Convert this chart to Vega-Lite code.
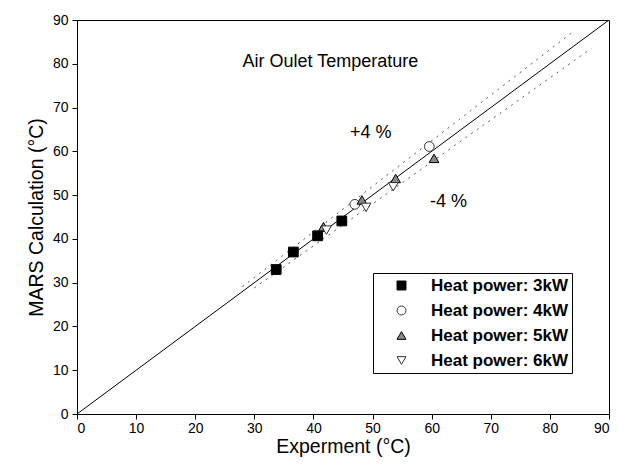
{
  "$schema": "https://vega.github.io/schema/vega-lite/v6.json",
  "width": 532,
  "height": 394,
  "autosize": {"type": "none"},
  "padding": {"left": 77, "top": 20, "right": 10, "bottom": 56},
  "background": "white",
  "config": {
    "view": {"stroke": "black", "strokeWidth": 1},
    "font": "Liberation Sans",
    "axis": {"domainColor": "black", "tickColor": "black", "labelColor": "black", "titleColor": "black", "grid": false, "labelFontSize": 14, "titleFontSize": 19.5, "titleFontWeight": "normal", "tickSize": 5, "labelFont": "Liberation Sans", "titleFont": "Liberation Sans"},
    "legend": {"orient": "none", "legendX": 296, "legendY": 253, "strokeColor": "black", "fillColor": "white", "padding": 4, "symbolOffset": 16, "labelFontSize": 17, "labelFontWeight": "bold", "labelColor": "black", "labelFont": "Liberation Sans", "labelOffset": 21, "rowPadding": 7, "symbolSize": 80, "symbolStrokeWidth": 1, "labelLimit": 300}
  },
  "datasets": {
    "points": [
      {"exp": 33.7, "calc": 33.0, "series": "Heat power: 3kW"},
      {"exp": 36.6, "calc": 37.0, "series": "Heat power: 3kW"},
      {"exp": 40.7, "calc": 40.7, "series": "Heat power: 3kW"},
      {"exp": 44.8, "calc": 44.1, "series": "Heat power: 3kW"},
      {"exp": 47.0, "calc": 47.9, "series": "Heat power: 4kW"},
      {"exp": 59.6, "calc": 61.1, "series": "Heat power: 4kW"},
      {"exp": 41.7, "calc": 42.8, "series": "Heat power: 5kW"},
      {"exp": 48.2, "calc": 48.9, "series": "Heat power: 5kW"},
      {"exp": 53.9, "calc": 53.8, "series": "Heat power: 5kW"},
      {"exp": 60.4, "calc": 58.4, "series": "Heat power: 5kW"},
      {"exp": 42.2, "calc": 42.0, "series": "Heat power: 6kW"},
      {"exp": 48.9, "calc": 47.2, "series": "Heat power: 6kW"},
      {"exp": 53.5, "calc": 51.9, "series": "Heat power: 6kW"}
    ],
    "lines": [
      {"x": 0, "y": 0, "line": "ideal"},
      {"x": 90, "y": 90, "line": "ideal"},
      {"x": 28, "y": 29.1, "line": "plus4"},
      {"x": 84, "y": 87.4, "line": "plus4"},
      {"x": 30, "y": 28.8, "line": "minus4"},
      {"x": 87, "y": 83.5, "line": "minus4"}
    ],
    "labels": [
      {"x": 28, "y": 79.3, "text": "Air Oulet Temperature"},
      {"x": 46.2, "y": 63.0, "text": "+4 %"},
      {"x": 59.7, "y": 47.3, "text": "-4 %"}
    ]
  },
  "layer": [
    {
      "data": {"name": "lines"},
      "transform": [{"filter": "datum.line == 'ideal'"}],
      "mark": {"type": "line", "color": "black", "strokeWidth": 1, "clip": true},
      "encoding": {
        "x": {"field": "x", "type": "quantitative", "scale": {"domain": [0, 90], "nice": false}, "axis": {"values": [0,10,20,30,40,50,60,70,80,90], "title": "Experment (°C)", "titlePadding": 2, "labelPadding": 2}},
        "y": {"field": "y", "type": "quantitative", "scale": {"domain": [0, 90], "nice": false}, "axis": {"values": [0,10,20,30,40,50,60,70,80,90], "title": "MARS Calculation (°C)", "titlePadding": 6, "labelPadding": 4}}
      }
    },
    {
      "data": {"name": "lines"},
      "transform": [{"filter": "datum.line != 'ideal'"}],
      "mark": {"type": "line", "color": "#555", "strokeWidth": 1, "strokeDash": [2, 5]},
      "encoding": {
        "x": {"field": "x", "type": "quantitative"},
        "y": {"field": "y", "type": "quantitative"},
        "detail": {"field": "line"}
      }
    },
    {
      "data": {"name": "labels"},
      "mark": {"type": "text", "align": "left", "baseline": "alphabetic", "fontSize": 18, "color": "black"},
      "encoding": {
        "x": {"field": "x", "type": "quantitative"},
        "y": {"field": "y", "type": "quantitative"},
        "text": {"field": "text"}
      }
    },
    {
      "data": {"name": "points"},
      "mark": {"type": "point", "filled": false, "strokeWidth": 1, "size": 95, "opacity": 1},
      "encoding": {
        "x": {"field": "exp", "type": "quantitative"},
        "y": {"field": "calc", "type": "quantitative"},
        "shape": {"field": "series", "type": "nominal", "scale": {"domain": ["Heat power: 3kW", "Heat power: 4kW", "Heat power: 5kW", "Heat power: 6kW"], "range": ["square", "circle", "triangle-up", "triangle-down"]}, "legend": {"title": null}},
        "fill": {"field": "series", "type": "nominal", "scale": {"domain": ["Heat power: 3kW", "Heat power: 4kW", "Heat power: 5kW", "Heat power: 6kW"], "range": ["black", "white", "#888888", "white"]}, "legend": {"title": null}},
        "stroke": {"field": "series", "type": "nominal", "scale": {"domain": ["Heat power: 3kW", "Heat power: 4kW", "Heat power: 5kW", "Heat power: 6kW"], "range": ["black", "#333333", "black", "#333333"]}, "legend": {"title": null}}
      }
    }
  ]
}
